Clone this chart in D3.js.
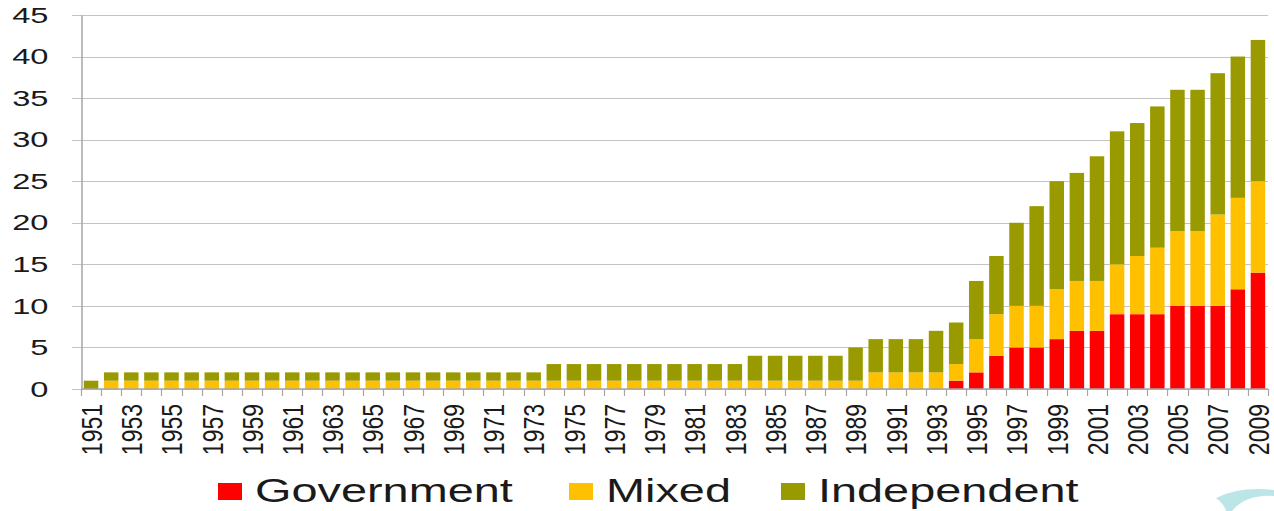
<!DOCTYPE html>
<html>
<head>
<meta charset="utf-8">
<script src="https://cdn.jsdelivr.net/npm/d3@7"></script>
<style>
  body { margin: 0; background: #fff; }
  text { font-family: "Liberation Sans", Arial, sans-serif; fill: #1a1a1a; }
</style>
</head>
<body>
<div id="chart"></div>
<script>

// Values, one entry per year 1951..2009

const years = [1951, 1952, 1953, 1954, 1955, 1956, 1957, 1958, 1959, 1960,
  1961, 1962, 1963, 1964, 1965, 1966, 1967, 1968, 1969, 1970,
  1971, 1972, 1973, 1974, 1975, 1976, 1977, 1978, 1979, 1980,
  1981, 1982, 1983, 1984, 1985, 1986, 1987, 1988, 1989, 1990,
  1991, 1992, 1993, 1994, 1995, 1996, 1997, 1998, 1999, 2000,
  2001, 2002, 2003, 2004, 2005, 2006, 2007, 2008, 2009];

const government = [0, 0, 0, 0, 0, 0, 0, 0, 0, 0,
  0, 0, 0, 0, 0, 0, 0, 0, 0, 0,
  0, 0, 0, 0, 0, 0, 0, 0, 0, 0,
  0, 0, 0, 0, 0, 0, 0, 0, 0, 0,
  0, 0, 0, 1, 2, 4, 5, 5, 6, 7,
  7, 9, 9, 9, 10, 10, 10, 12, 14];

const mixed = [0, 1, 1, 1, 1, 1, 1, 1, 1, 1,
  1, 1, 1, 1, 1, 1, 1, 1, 1, 1,
  1, 1, 1, 1, 1, 1, 1, 1, 1, 1,
  1, 1, 1, 1, 1, 1, 1, 1, 1, 2,
  2, 2, 2, 2, 4, 5, 5, 5, 6, 6,
  6, 6, 7, 8, 9, 9, 11, 11, 11];

const independent = [1, 1, 1, 1, 1, 1, 1, 1, 1, 1,
  1, 1, 1, 1, 1, 1, 1, 1, 1, 1,
  1, 1, 1, 2, 2, 2, 2, 2, 2, 2,
  2, 2, 2, 3, 3, 3, 3, 3, 4, 4,
  4, 4, 5, 5, 7, 7, 10, 12, 13, 13,
  15, 16, 16, 17, 17, 17, 17, 17, 17];

const seriesNames = ["Government", "Mixed", "Independent"];
const seriesKeys = ["government", "mixed", "independent"];
const yTicks = [0, 5, 10, 15, 20, 25, 30, 35, 40, 45];

const colors = { government: "#ff0000", mixed: "#ffc000", independent: "#999900" };

const width = 1274;
const height = 511;
const margin = { top: 15, right: 6, bottom: 122, left: 81 };
const stretch = 1.45;   // the source picture is widened, so is its text

// table for d3.stack
const table = years.map((y, i) => ({
  year: y,
  government: government[i],
  mixed: mixed[i],
  independent: independent[i]
}));

const svg = d3.select("#chart")
  .append("svg")
  .attr("width", width)
  .attr("height", height);

const x = d3.scaleBand()
  .domain(years)
  .range([margin.left, width - margin.right])
  .paddingInner(0.28)
  .paddingOuter(0.14);

const y = d3.scaleLinear()
  .domain([0, 45])
  .range([height - margin.bottom, margin.top]);

const step = x.step();
const x0 = margin.left;
const x1 = width - margin.right;

// gridlines
svg.append("g")
  .selectAll("line")
  .data(yTicks)
  .enter()
  .append("line")
    .attr("x1", x0 - 9)
    .attr("x2", x1)
    .attr("y1", d => Math.round(y(d)) + 0.5)
    .attr("y2", d => Math.round(y(d)) + 0.5)
    .attr("stroke", "#c4c4c4")
    .attr("stroke-width", 1.2);

// y axis
const yAxis = svg.append("g")
  .attr("transform", `translate(${x0 + 0.5}, 0)`)
  .call(d3.axisLeft(y).tickValues(yTicks).tickSize(0).tickPadding(0));

yAxis.select(".domain").attr("stroke", "#a6a6a6").attr("stroke-width", 1.5);
yAxis.selectAll("text")
  .attr("x", null)
  .attr("transform", `translate(-33,0) scale(${stretch},1)`)
  .attr("font-size", "22.5px")
  .attr("font-family", "Liberation Sans, Arial, sans-serif");

// stacked bars
const stack = d3.stack().keys(seriesKeys);
const layers = stack(table);

svg.append("g")
  .selectAll("g")
  .data(layers)
  .enter()
  .append("g")
    .attr("fill", d => colors[d.key])
  .selectAll("rect")
  .data(d => d)
  .enter()
  .append("rect")
    .attr("x", d => x(d.data.year))
    .attr("y", d => y(d[1]))
    .attr("width", x.bandwidth())
    .attr("height", d => y(d[0]) - y(d[1]));

// x axis with ticks on band boundaries, labels every other year
const xAxis = svg.append("g")
  .attr("transform", `translate(0, ${y(0)})`)
  .call(d3.axisBottom(x).tickSize(0).tickPadding(0)
    .tickFormat(d => (d % 2 === 1 ? d : "")));

xAxis.select(".domain").remove();
xAxis.append("line")
  .attr("x1", x0)
  .attr("x2", x1)
  .attr("stroke", "#a6a6a6")
  .attr("stroke-width", 1.5);

xAxis.selectAll(".boundary")
  .data(years.concat([null]))
  .enter()
  .append("line")
    .attr("class", "boundary")
    .attr("x1", (d, i) => Math.round(x0 + i * step) + 0.5)
    .attr("x2", (d, i) => Math.round(x0 + i * step) + 0.5)
    .attr("y1", 0)
    .attr("y2", 7)
    .attr("stroke", "#a6a6a6")
    .attr("stroke-width", 1.2);

xAxis.selectAll(".tick text")
  .attr("y", null)
  .attr("dy", "0.36em")
  .attr("transform", `translate(0,15) scale(1.3,1) rotate(-90)`)
  .style("text-anchor", "end")
  .attr("font-size", "23px")
  .attr("font-family", "Liberation Sans, Arial, sans-serif");

// legend
const legendX = [218, 569, 781];
const legend = svg.append("g");

legend.selectAll("rect")
  .data(seriesKeys)
  .enter()
  .append("rect")
    .attr("x", (d, i) => legendX[i])
    .attr("y", 483)
    .attr("width", 24)
    .attr("height", 17)
    .attr("fill", d => colors[d]);

legend.selectAll("text")
  .data(seriesNames)
  .enter()
  .append("text")
    .attr("transform", (d, i) => `translate(${legendX[i] + 37}, 502) scale(1.42,1)`)
    .attr("font-size", "33px")
    .text(d => d);

// slide decoration in the corner
svg.append("path")
  .attr("d", "M1216,498 Q1240,486 1274,490 L1274,496 Q1246,494 1232,511 L1226,511 Q1224,504 1216,498 Z")
  .attr("fill", "#9fdade")
  .attr("opacity", 0.7);

</script>
</body>
</html>
